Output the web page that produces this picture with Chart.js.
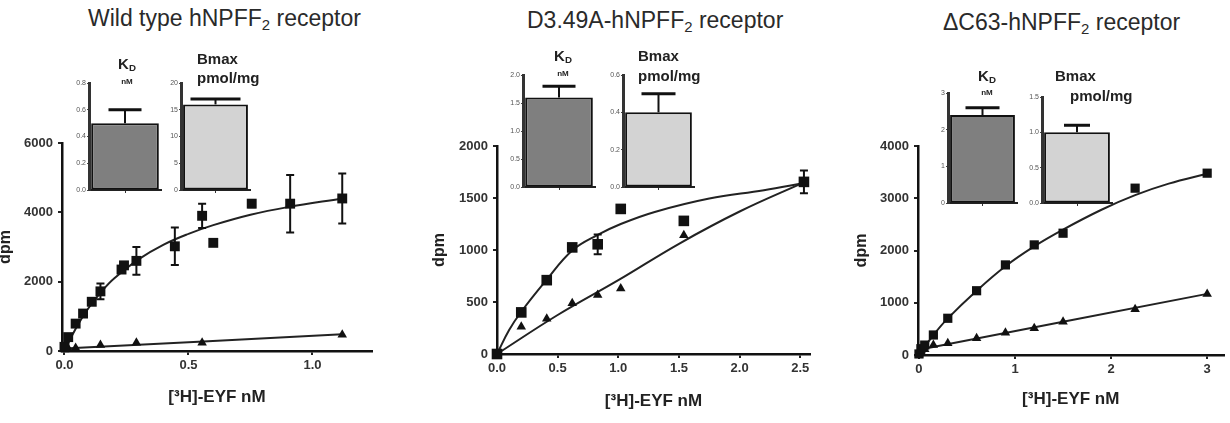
<!DOCTYPE html>
<html>
<head>
<meta charset="utf-8">
<script src="https://cdn.jsdelivr.net/npm/chart.js@4.4.1/dist/chart.umd.min.js"></script>
<style>
  body { margin: 0; background: #fff; }
  #fig { position: relative; width: 1230px; height: 423px; overflow: hidden; font-family: 'Liberation Sans', Arial, sans-serif; }
  canvas { position: absolute; }
  .txt { position: absolute; white-space: nowrap; color: #222; line-height: 1; transform: translateY(-50%); }
  .mid { transform: translate(-50%, -50%); }
  .title { font-size: 23px; color: #2a2a2a; }
  .lbl { font-weight: bold; font-size: 15px; }
  .unit { font-weight: bold; font-size: 8px; }
  sub { font-size: 65%; vertical-align: -0.3em; line-height: 0; }
</style>
</head>
<body>
<div id="fig">
  <canvas id="wtMain" width="385" height="293" style="left:0;top:130px"></canvas>
  <canvas id="d349Main" width="400" height="293" style="left:420px;top:130px"></canvas>
  <canvas id="dc63Main" width="390" height="293" style="left:840px;top:130px"></canvas>

  <canvas id="wtKd" width="99" height="119" style="left:65px;top:77px"></canvas>
  <canvas id="wtBmax" width="96" height="119" style="left:157px;top:77px"></canvas>
  <canvas id="d349Kd" width="99" height="124" style="left:499px;top:69px"></canvas>
  <canvas id="d349Bmax" width="98" height="124" style="left:599px;top:69px"></canvas>
  <canvas id="dc63Kd" width="96" height="122" style="left:924px;top:87px"></canvas>
  <canvas id="dc63Bmax" width="97" height="118" style="left:1018px;top:91px"></canvas>

  <div class="txt title" style="left:88px;top:18px">Wild type hNPFF<sub>2</sub> receptor</div>
  <div class="txt title" style="left:527px;top:20px">D3.49A-hNPFF<sub>2</sub> receptor</div>
  <div class="txt title" style="left:943px;top:22px">ΔC63-hNPFF<sub>2</sub> receptor</div>

  <div class="txt mid lbl" style="left:127px;top:63px">K<sub>D</sub></div>
  <div class="txt mid unit" style="left:127px;top:82px">nM</div>
  <div class="txt lbl" style="left:197px;top:58px">Bmax</div>
  <div class="txt lbl" style="left:197px;top:77px">pmol/mg</div>

  <div class="txt mid lbl" style="left:563px;top:55px">K<sub>D</sub></div>
  <div class="txt mid unit" style="left:563px;top:74px">nM</div>
  <div class="txt lbl" style="left:638px;top:55px">Bmax</div>
  <div class="txt lbl" style="left:638px;top:75px">pmol/mg</div>

  <div class="txt mid lbl" style="left:987px;top:75px">K<sub>D</sub></div>
  <div class="txt mid unit" style="left:987px;top:93px">nM</div>
  <div class="txt lbl" style="left:1055px;top:75px">Bmax</div>
  <div class="txt lbl" style="left:1070px;top:95px">pmol/mg</div>
</div>
<script>
// wild type: total binding (squares), nonspecific (triangles), fitted curves
const wtConc = [0.0, 0.015, 0.045, 0.075, 0.11, 0.145, 0.23, 0.24, 0.29, 0.445, 0.555, 0.6, 0.755, 0.91, 1.12];
const wtTotal = [120, 400, 790, 1080, 1420, 1720, 2350, 2470, 2600, 3020, 3900, 3120, 4250, 4250, 4400];
const wtTotalErr = [0, 0, 0, 0, 0, 230, 0, 0, 400, 540, 350, 0, 100, 830, 720];
const wtNsConc = [0.0, 0.015, 0.045, 0.145, 0.29, 0.555, 1.12];
const wtNs = [40, 70, 90, 170, 235, 240, 470];
const wtFitX = [0, 0.05, 0.1, 0.15, 0.2, 0.3, 0.4, 0.5, 0.6, 0.75, 0.9, 1.12];
const wtFitY = [0, 710, 1270, 1720, 2090, 2650, 3070, 3380, 3630, 3930, 4150, 4400];
const wtNsFitX = [0, 1.12];
const wtNsFitY = [75, 480];
const wtXTicks = [0, 0.5, 1.0];
const wtYTicks = [0, 2000, 4000, 6000];

// D3.49A mutant
const d349Conc = [0, 0.2, 0.41, 0.62, 0.83, 1.02, 1.54, 2.53];
const d349Total = [0, 400, 710, 1025, 1055, 1395, 1280, 1655];
const d349TotalErr = [0, 0, 0, 30, 95, 0, 0, 110];
const d349NsConc = [0, 0.2, 0.41, 0.62, 0.83, 1.02, 1.54, 2.53];
const d349Ns = [0, 262, 340, 487, 567, 631, 1143, 1640];
const d349FitX = [0, 0.1, 0.2, 0.4, 0.62, 0.83, 1.02, 1.3, 1.75, 2.2, 2.53];
const d349FitY = [0, 230, 406, 700, 995, 1145, 1250, 1366, 1495, 1575, 1645];
const d349NsFitX = [0, 0.5, 1.0, 1.5, 2.0, 2.53];
const d349NsFitY = [0, 375, 710, 1060, 1370, 1650];
const d349XTicks = [0, 0.5, 1.0, 1.5, 2.0, 2.5];
const d349YTicks = [0, 500, 1000, 1500, 2000];

// deltaC63 mutant
const dc63Conc = [0, 0.02, 0.06, 0.15, 0.3, 0.6, 0.9, 1.2, 1.5, 2.25, 3.0];
const dc63Total = [20, 120, 190, 383, 703, 1230, 1724, 2107, 2331, 3193, 3480];
const dc63TotalErr = [0, 0, 0, 0, 0, 0, 0, 0, 0, 0, 0];
const dc63NsConc = [0, 0.02, 0.06, 0.15, 0.3, 0.6, 0.9, 1.2, 1.5, 2.25, 3.0];
const dc63Ns = [10, 60, 110, 190, 225, 320, 428, 511, 638, 875, 1169];
const dc63FitX = [0, 0.15, 0.3, 0.6, 0.9, 1.2, 1.5, 1.9, 2.25, 2.6, 3.0];
const dc63FitY = [0, 380, 700, 1230, 1700, 2080, 2400, 2780, 3060, 3280, 3470];
const dc63NsFitX = [0, 3.0];
const dc63NsFitY = [100, 1170];
const dc63XTicks = [0, 1, 2, 3];
const dc63YTicks = [0, 1000, 2000, 3000, 4000];

// inset bars: KD (nM) and Bmax (pmol/mg), mean + SEM
const wtKd = [0.5], wtKdErr = [0.1], wtKdTicks = [0, 0.2, 0.4, 0.6, 0.8];
const wtBmax = [16], wtBmaxErr = [1], wtBmaxTicks = [0, 5, 10, 15, 20];
const d349Kd = [1.6], d349KdErr = [0.2], d349KdTicks = [0, 0.5, 1.0, 1.5, 2.0];
const d349Bmax = [0.4], d349BmaxErr = [0.1], d349BmaxTicks = [0, 0.2, 0.4, 0.6];
const dc63Kd = [2.4], dc63KdErr = [0.2], dc63KdTicks = [0, 1, 2, 3];
const dc63Bmax = [1.0], dc63BmaxErr = [0.1], dc63BmaxTicks = [0, 0.5, 1.0, 1.5];

Chart.defaults.font.family = "'Liberation Sans', Arial, sans-serif";

const pts = (xs, ys) => xs.map((x, i) => ({ x: x, y: ys[i] }));

// draws error bars from each dataset's "errors" array via the y scale
const errorBars = {
    id: 'errorBars',
    afterDatasetsDraw(chart) {
        const ctx = chart.ctx;
        const yScale = chart.scales.y;
        chart.data.datasets.forEach((ds, i) => {
            if (!ds.errors) return;
            const meta = chart.getDatasetMeta(i);
            ctx.save();
            ctx.strokeStyle = '#111';
            meta.data.forEach((el, j) => {
                const e = ds.errors[j];
                if (!e) return;
                const raw = ds.data[j];
                const v = typeof raw === 'object' ? raw.y : raw;
                const top = yScale.getPixelForValue(v + e);
                const bot = ds.upOnly ? el.y : yScale.getPixelForValue(v - e);
                const half = ds.capWidth / 2;
                ctx.lineWidth = 2;
                ctx.beginPath();
                ctx.moveTo(el.x, top);
                ctx.lineTo(el.x, bot);
                ctx.stroke();
                ctx.lineWidth = ds.upOnly ? 3 : 2;
                ctx.beginPath();
                ctx.moveTo(el.x - half, top);
                ctx.lineTo(el.x + half, top);
                if (!ds.upOnly) {
                    ctx.moveTo(el.x - half, bot);
                    ctx.lineTo(el.x + half, bot);
                }
                ctx.stroke();
            });
            ctx.restore();
        });
    }
};

function mainChart(id, p) {
    new Chart(document.getElementById(id), {
        type: 'scatter',
        data: {
            datasets: [
                { data: pts(p.conc, p.total), errors: p.err, capWidth: 8, pointStyle: 'rect', pointRadius: p.sq,
                  backgroundColor: '#111', borderColor: '#111', borderWidth: 0, order: 0, clip: false },
                { data: pts(p.nsConc, p.ns), pointStyle: 'triangle', pointRadius: p.tri,
                  backgroundColor: '#111', borderColor: '#111', borderWidth: 0, order: 1, clip: false },
                { data: pts(p.fitX, p.fitY), showLine: true, pointRadius: 0, borderColor: '#222', borderWidth: 2,
                  tension: 0.4, order: 2, clip: false },
                { data: pts(p.nsFitX, p.nsFitY), showLine: true, pointRadius: 0, borderColor: '#222', borderWidth: 2,
                  tension: 0.4, order: 3, clip: false }
            ]
        },
        options: {
            responsive: false,
            animation: false,
            layout: { padding: { left: 0, top: p.padTop, right: p.padRight, bottom: 0 } },
            plugins: { legend: { display: false }, tooltip: { enabled: false } },
            scales: {
                x: {
                    type: 'linear', min: p.xMin, max: p.xMax,
                    afterBuildTicks: s => { s.ticks = p.xTicks.map(v => ({ value: v })); },
                    afterFit: s => { s.height = p.xH; },
                    grid: { drawOnChartArea: false, tickLength: 4, color: '#222', lineWidth: 2 },
                    border: { display: true, color: '#111', width: 2.5 },
                    ticks: { font: { size: 13, weight: 'bold' }, color: '#333', padding: 3, maxRotation: 0,
                             callback: v => v.toFixed(p.xDec) },
                    title: { display: true, text: '[³H]-EYF nM', color: '#222', font: { size: 17, weight: 'bold' },
                             padding: { top: 0, bottom: p.xTitlePad } }
                },
                y: {
                    type: 'linear', min: 0, max: p.yMax,
                    afterBuildTicks: s => { s.ticks = p.yTicks.map(v => ({ value: v })); },
                    afterFit: s => { s.width = p.yW; },
                    grid: { drawOnChartArea: false, tickLength: 4, color: '#222', lineWidth: 2 },
                    border: { display: true, color: '#111', width: 2.5 },
                    ticks: { font: { size: 13, weight: 'bold' }, color: '#333', padding: 5, callback: v => String(v) },
                    title: { display: true, text: 'dpm', color: '#222', font: { size: 16, weight: 'bold' },
                             padding: { top: p.yTitlePad, bottom: 0 } }
                }
            }
        },
        plugins: [errorBars]
    });
}

function insetChart(id, val, err, ticks, dec, color, cap) {
    new Chart(document.getElementById(id), {
        type: 'bar',
        data: {
            labels: [''],
            datasets: [{ data: val, errors: err, upOnly: true, capWidth: cap, backgroundColor: color,
                         borderColor: '#111', borderWidth: 2, borderSkipped: false,
                         barPercentage: 1, categoryPercentage: 0.94 }]
        },
        options: {
            responsive: false,
            animation: false,
            layout: { padding: { left: 0, top: 6, right: 3, bottom: 0 } },
            plugins: { legend: { display: false }, tooltip: { enabled: false } },
            scales: {
                x: {
                    afterFit: s => { s.height = 6; },
                    grid: { offset: false, drawOnChartArea: false, tickLength: 3, color: '#333', lineWidth: 1 },
                    border: { display: true, color: '#222', width: 2 },
                    ticks: { display: false }
                },
                y: {
                    min: 0, max: ticks[ticks.length - 1],
                    afterBuildTicks: s => { s.ticks = ticks.map(v => ({ value: v })); },
                    afterFit: s => { s.width = 24; },
                    grid: { drawOnChartArea: false, tickLength: 2, color: '#444', lineWidth: 1 },
                    border: { display: true, color: '#333', width: 3 },
                    ticks: { font: { size: 7 }, color: '#555', padding: 1, callback: v => v.toFixed(dec) }
                }
            }
        },
        plugins: [errorBars]
    });
}

mainChart('wtMain', {
    conc: wtConc, total: wtTotal, err: wtTotalErr, nsConc: wtNsConc, ns: wtNs,
    fitX: wtFitX, fitY: wtFitY, nsFitX: wtNsFitX, nsFitY: wtNsFitY,
    xTicks: wtXTicks, yTicks: wtYTicks, xMin: -0.01, xMax: 1.24, yMax: 6000, xDec: 1,
    sq: 7, tri: 5.5, yW: 62, padTop: 13, padRight: 13, xH: 72, xTitlePad: 15, yTitlePad: -4
});
mainChart('d349Main', {
    conc: d349Conc, total: d349Total, err: d349TotalErr, nsConc: d349NsConc, ns: d349Ns,
    fitX: d349FitX, fitY: d349FitY, nsFitX: d349NsFitX, nsFitY: d349NsFitY,
    xTicks: d349XTicks, yTicks: d349YTicks, xMin: 0, xMax: 2.58, yMax: 2000, xDec: 1,
    sq: 7.5, tri: 5.5, yW: 77, padTop: 16, padRight: 10, xH: 69, xTitlePad: 11, yTitlePad: 10
});
mainChart('dc63Main', {
    conc: dc63Conc, total: dc63Total, err: dc63TotalErr, nsConc: dc63NsConc, ns: dc63Ns,
    fitX: dc63FitX, fitY: dc63FitY, nsFitX: dc63NsFitX, nsFitY: dc63NsFitY,
    xTicks: dc63XTicks, yTicks: dc63YTicks, xMin: -0.01, xMax: 3.17, yMax: 4000, xDec: 0,
    sq: 6.5, tri: 5.5, yW: 78, padTop: 16, padRight: 0, xH: 68, xTitlePad: 13, yTitlePad: 12
});

const dark = '#7f7f7f', light = '#d3d3d3';
insetChart('wtKd', wtKd, wtKdErr, wtKdTicks, 1, dark, 33);
insetChart('wtBmax', wtBmax, wtBmaxErr, wtBmaxTicks, 0, light, 50);
insetChart('d349Kd', d349Kd, d349KdErr, d349KdTicks, 1, dark, 33);
insetChart('d349Bmax', d349Bmax, d349BmaxErr, d349BmaxTicks, 1, light, 34);
insetChart('dc63Kd', dc63Kd, dc63KdErr, dc63KdTicks, 0, dark, 34);
insetChart('dc63Bmax', dc63Bmax, dc63BmaxErr, dc63BmaxTicks, 1, light, 26);
</script>
</body>
</html>
